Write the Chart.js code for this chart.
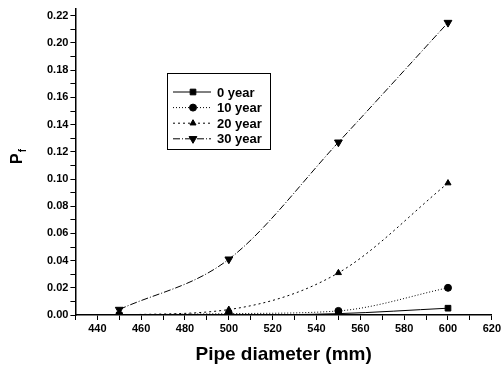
<!DOCTYPE html>
<html>
<head>
<meta charset="utf-8">
<script src="https://cdn.jsdelivr.net/npm/chart.js@4/dist/chart.umd.min.js"></script>
<style>
  html, body { margin: 0; padding: 0; background: #fff; }
  #wrap { width: 503px; height: 369px; position: relative; }
</style>
</head>
<body>
<div id="wrap"><canvas id="chart"></canvas></div>
<script>
// Pipe diameters (mm)
const diameters = [450, 500, 550, 600];

// failure probability per age
const year0 = [0.000, 0.000, 0.001, 0.005];
const year10 = [0.000, 0.001, 0.003, 0.020];
const year20 = [0.000, 0.004, 0.031, 0.097];
const year30 = [0.004, 0.041, 0.127, 0.215];

const seriesLabels = ['0 year', '10 year', '20 year', '30 year'];

const xTicks = [430, 440, 450, 460, 470, 480, 490, 500, 510, 520, 530, 540, 550, 560, 570, 580, 590, 600, 610, 620];
const yTicks = [0, 0.01, 0.02, 0.03, 0.04, 0.05, 0.06, 0.07, 0.08, 0.09, 0.10, 0.11,
                0.12, 0.13, 0.14, 0.15, 0.16, 0.17, 0.18, 0.19, 0.20, 0.21, 0.22];

function toPoints(values) {
    return diameters.map((d, i) => ({ x: d, y: values[i] }));
}

const font = 'Liberation Sans, Arial, sans-serif';

// Legend box drawn inside the plot
const boxLegend = {
    id: 'boxLegend',
    afterDraw(chart) {
        const ctx = chart.ctx;
        const x0 = 167, y0 = 73, w = 103, h = 76;
        ctx.save();
        ctx.strokeStyle = '#000';
        ctx.lineWidth = 1;
        ctx.strokeRect(x0 + 0.5, y0 + 0.5, w, h);
        chart.data.datasets.forEach((ds, i) => {
            const y = y0 + 19 + i * 15.6;
            ctx.beginPath();
            ctx.setLineDash(ds.borderDash || []);
            ctx.lineWidth = 1;
            ctx.moveTo(x0 + 6, y);
            ctx.lineTo(x0 + 44, y);
            ctx.stroke();
            ctx.setLineDash([]);
            Chart.helpers.drawPoint(ctx, {
                pointStyle: ds.pointStyle,
                radius: ds.pointRadius,
                rotation: ds.pointRotation || 0,
                borderWidth: 1
            }, x0 + 26, y);
            ctx.fillStyle = '#000';
            ctx.font = 'bold 13px ' + font;
            ctx.textBaseline = 'middle';
            ctx.fillText(ds.label, x0 + 50, y + 1);
        });
        ctx.restore();
    }
};

// Y axis title P with subscript f
const yTitle = {
    id: 'yTitle',
    afterDraw(chart) {
        const ctx = chart.ctx;
        ctx.save();
        ctx.translate(22, 164);
        ctx.rotate(-Math.PI / 2);
        ctx.fillStyle = '#000';
        ctx.textBaseline = 'alphabetic';
        ctx.font = 'bold 16px ' + font;
        ctx.fillText('P', 0, 0);
        const pw = ctx.measureText('P').width;
        ctx.font = 'bold 10px ' + font;
        ctx.fillText('f', pw + 1, 4);
        ctx.restore();
    }
};

const styles = [
    { dash: [], point: 'rect', r: 4, rot: 0 },
    { dash: [1, 2], point: 'circle', r: 3.5, rot: 0 },
    { dash: [2, 3], point: 'triangle', r: 3.5, rot: 0 },
    { dash: [7, 2, 1, 2], point: 'triangle', r: 4.5, rot: 180 }
];

const allValues = [year0, year10, year20, year30];

const datasets = allValues.map((vals, i) => ({
    label: seriesLabels[i],
    data: toPoints(vals),
    borderColor: '#000',
    backgroundColor: '#000',
    borderWidth: 1,
    borderDash: styles[i].dash,
    pointStyle: styles[i].point,
    pointRadius: styles[i].r,
    pointRotation: styles[i].rot,
    pointBackgroundColor: '#000',
    pointBorderColor: '#000',
    cubicInterpolationMode: 'monotone',
    fill: false
}));

new Chart(document.getElementById('chart'), {
    type: 'line',
    data: { datasets: datasets },
    options: {
        responsive: true,
        maintainAspectRatio: false,
        animation: false,
        layout: { padding: { top: 9, right: 11, left: 45, bottom: 0 } },
        plugins: {
            legend: { display: false },
            tooltip: { enabled: false }
        },
        scales: {
            x: {
                type: 'linear',
                min: 430,
                max: 620,
                afterBuildTicks: scale => { scale.ticks = xTicks.map(v => ({ value: v })); },
                border: { color: '#000', width: 1.5 },
                grid: { display: true, drawOnChartArea: false, drawTicks: true, tickLength: 5, color: '#000' },
                ticks: {
                    autoSkip: false,
                    maxRotation: 0,
                    color: '#000',
                    font: { family: font, size: 11, weight: 'bold' },
                    padding: 2,
                    callback: v => (v % 20 === 0 ? String(v) : '')
                },
                title: {
                    display: true,
                    text: 'Pipe diameter (mm)',
                    color: '#000',
                    font: { family: font, size: 19, weight: 'bold' },
                    padding: { top: 6, bottom: 3 }
                }
            },
            y: {
                min: 0,
                max: 0.225,
                afterBuildTicks: scale => { scale.ticks = yTicks.map(v => ({ value: v })); },
                border: { color: '#000', width: 1.5 },
                grid: { display: true, drawOnChartArea: false, drawTicks: true, tickLength: 5, color: '#000' },
                ticks: {
                    autoSkip: false,
                    color: '#000',
                    font: { family: font, size: 11, weight: 'bold' },
                    padding: 2,
                    callback: v => {
                        const k = Math.round(v * 100);
                        return k % 2 === 0 ? v.toFixed(2) : '';
                    }
                }
            }
        }
    },
    plugins: [boxLegend, yTitle]
});
</script>
</body>
</html>
